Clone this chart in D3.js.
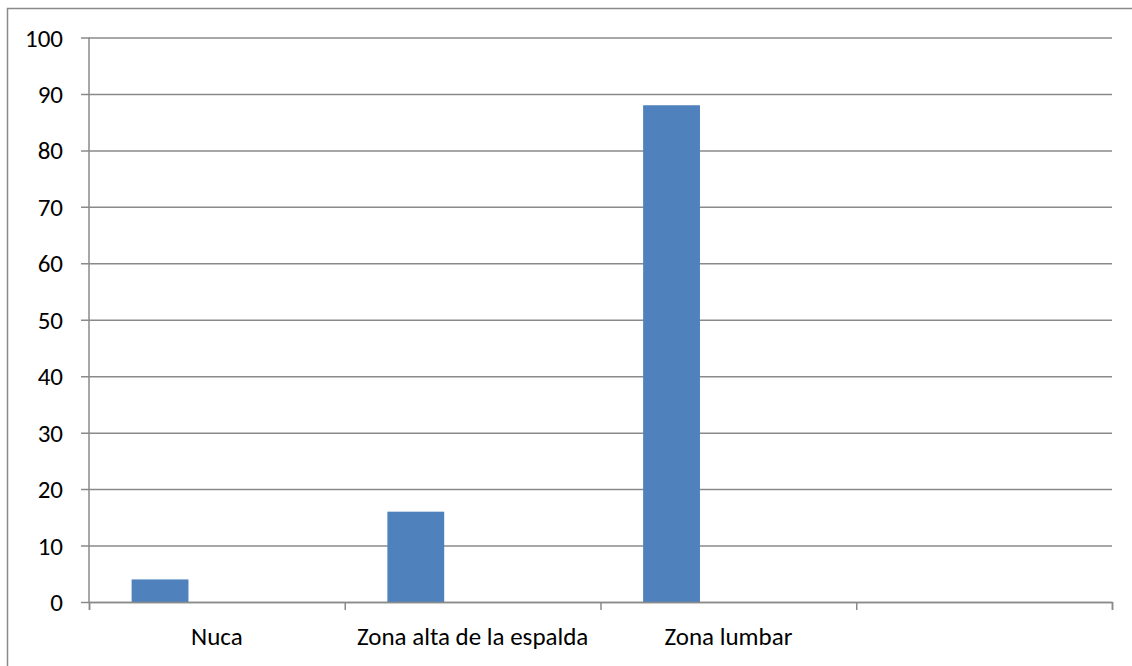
<!DOCTYPE html>
<html lang="es">
<head>
    <meta charset="UTF-8">
    <title>Zonas de dolor</title>
    <script src="https://d3js.org/d3.v7.min.js"></script>
    <style>
        body { margin: 0; background: #ffffff; }
        .axis-text { font-family: Carlito, Calibri, "Liberation Sans", Arial, sans-serif; font-size: 25px; fill: #000000; }
        .grid line { stroke: #8a8a8a; stroke-width: 1.5; }
        .grid path { stroke-width: 0; }
        .x-axis path, .x-axis line { stroke: #8a8a8a; stroke-width: 1.5; }
    </style>
</head>
<body>
    <div id="chart"></div>
    <script>
        // datos del gráfico
        const categories = ["Nuca", "Zona alta de la espalda", "Zona lumbar", ""];
        const seriesNames = ["Serie1", "Serie2", "Serie3"];
        const values = [4, 16, 88, null];
        const yTicks = [0, 10, 20, 30, 40, 50, 60, 70, 80, 90, 100];

        const W = 1132, H = 666;
        const plot = { left: 89, right: 1112, top: 37.5, bottom: 602 };

        const svg = d3.select("#chart")
            .append("svg")
            .attr("width", W)
            .attr("height", H);

        // marco exterior
        svg.append("rect")
            .attr("x", 7.5).attr("y", 8.5)
            .attr("width", W).attr("height", H)
            .attr("fill", "none")
            .attr("stroke", "#8a8a8a")
            .attr("stroke-width", 1.5);

        const y = d3.scaleLinear()
            .domain([0, 100])
            .range([plot.bottom, plot.top]);

        const x0 = d3.scaleBand()
            .domain(categories.map((c, i) => i))
            .range([plot.left, plot.right])
            .padding(0);

        // 3 series al estilo Excel (ancho de intervalo 150%)
        const x1 = d3.scaleBand()
            .domain(seriesNames)
            .range([0, x0.bandwidth()])
            .paddingInner(0)
            .paddingOuter(0.75);

        // líneas de cuadrícula + etiquetas del eje Y
        const grid = svg.append("g")
            .attr("class", "grid")
            .attr("transform", `translate(${plot.right},0)`)
            .call(d3.axisLeft(y)
                .tickValues(yTicks)
                .tickSize(plot.right - 81)
                .tickPadding(18)
                .tickFormat(d3.format("d")));
        grid.selectAll("text").attr("class", "axis-text").attr("dy", "0.34em");

        // eje vertical
        svg.append("line")
            .attr("x1", plot.left).attr("x2", plot.left)
            .attr("y1", plot.top).attr("y2", plot.bottom)
            .attr("stroke", "#8a8a8a").attr("stroke-width", 1.5);

        // barras
        svg.append("g")
            .selectAll("rect")
            .data(values.map((v, i) => ({ i, v })).filter(d => d.v !== null))
            .join("rect")
            .attr("x", d => x0(d.i) + x1("Serie1"))
            .attr("y", d => y(d.v))
            .attr("width", x1.bandwidth())
            .attr("height", d => y(0) - y(d.v))
            .attr("fill", "#4f81bd");

        // eje horizontal con marcas en los límites de categoría
        const xb = d3.scaleLinear()
            .domain([0, categories.length])
            .range([plot.left, plot.right]);
        svg.append("g")
            .attr("class", "x-axis")
            .attr("transform", `translate(0,${plot.bottom})`)
            .call(d3.axisBottom(xb)
                .ticks(categories.length)
                .tickSizeInner(8)
                .tickSizeOuter(8)
                .tickFormat(""));

        // etiquetas de categoría
        svg.append("g")
            .selectAll("text")
            .data(categories)
            .join("text")
            .attr("class", "axis-text")
            .attr("x", (d, i) => x0(i) + x0.bandwidth() / 2)
            .attr("y", 645)
            .attr("text-anchor", "middle")
            .text(d => d);
    </script>
</body>
</html>
